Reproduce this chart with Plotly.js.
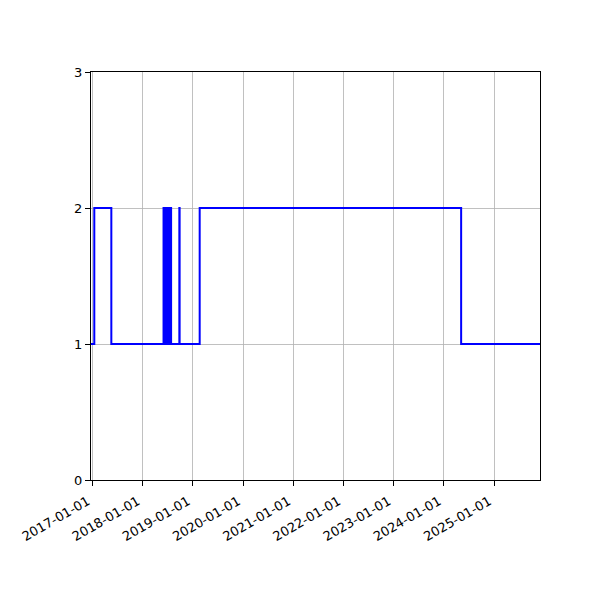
<!DOCTYPE html>
<html>
<head>
<meta charset="utf-8">
<script src="https://cdn.plot.ly/plotly-3.0.1.min.js"></script>
<style>html,body{margin:0;padding:0;background:#fff;}#chart{width:600px;height:600px;}</style>
</head>
<body>
<div id="chart"></div>
<script>
const dates = [
  "2016-12-20", "2017-01-13", "2017-05-17",
  "2018-06-01", "2018-06-04", "2018-06-07", "2018-06-10", "2018-06-13", "2018-06-16",
  "2018-06-19", "2018-06-22", "2018-06-25", "2018-06-28", "2018-07-01", "2018-07-04",
  "2018-07-07", "2018-07-10", "2018-07-13", "2018-07-16", "2018-07-19", "2018-07-22",
  "2018-07-24", "2018-07-26",
  "2018-09-24", "2018-09-26",
  "2019-02-19", "2024-05-06", "2025-12-01"
];
const values = [
  1, 2, 1,
  2, 1, 2, 1, 2, 1,
  2, 1, 2, 1, 2, 1,
  2, 1, 2, 1, 2, 1,
  2, 1,
  2, 1,
  2, 1, 1
];
const xTickVals = ["2017-01-01","2018-01-01","2019-01-01","2020-01-01","2021-01-01","2022-01-01","2023-01-01","2024-01-01","2025-01-01"];
const xTickText = ["2017-01-01","2018-01-01","2019-01-01","2020-01-01","2021-01-01","2022-01-01","2023-01-01","2024-01-01","2025-01-01"];
const yTickVals = [0, 1, 2, 3];
const xRange = ["2016-12-20", "2025-12-01"];

const trace = {
  x: dates, y: values, type: "scatter", mode: "lines",
  line: {color: "#0000ff", width: 2, shape: "hv"},
  hoverinfo: "skip"
};
const axisCommon = {
  showline: true, mirror: true, linecolor: "#000", linewidth: 1,
  ticks: "outside", ticklen: 5, tickwidth: 1, tickcolor: "#000",
  showgrid: true, gridcolor: "#b0b0b0", gridwidth: 0.8,
  zeroline: false,
  tickfont: {family: "DejaVu Sans", size: 13, color: "#000"}
};
const layout = {
  width: 600, height: 600,
  margin: {l: 91, r: 60, t: 72, b: 120},
  paper_bgcolor: "#fff", plot_bgcolor: "#fff",
  showlegend: false,
  font: {family: "DejaVu Sans", size: 13, color: "#000"},
  xaxis: Object.assign({}, axisCommon, {
    type: "date", range: xRange,
    tickmode: "array", tickvals: xTickVals, ticktext: xTickText,
    tickangle: -30, ticklabelshift: -5, ticklabelstandoff: 3
  }),
  yaxis: Object.assign({}, axisCommon, {
    range: [0, 3], tickmode: "array", tickvals: yTickVals
  })
};
Plotly.newPlot("chart", [trace], layout, {displayModeBar: false, staticPlot: true});
</script>
</body>
</html>
